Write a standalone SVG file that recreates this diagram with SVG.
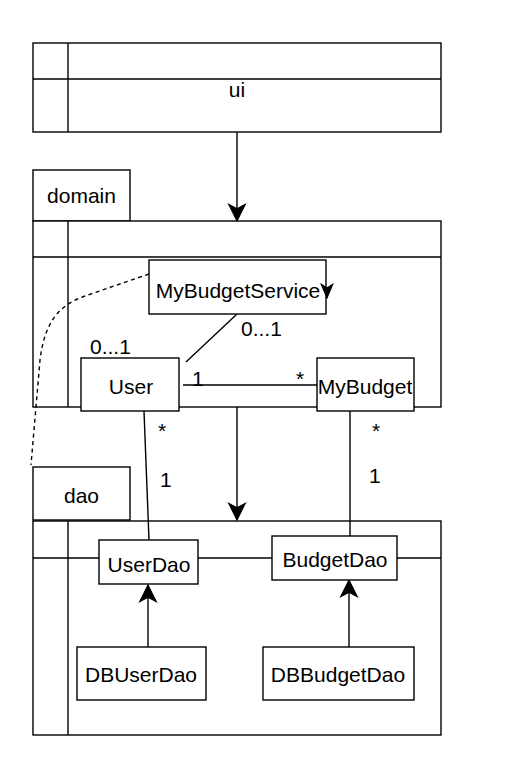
<svg xmlns="http://www.w3.org/2000/svg" width="508" height="768" viewBox="0 0 508 768">
<style>
.s{fill:#fff;stroke:#000;stroke-width:1.4}
.l{fill:none;stroke:#000;stroke-width:1.4}
.d{fill:none;stroke:#000;stroke-width:1.4;stroke-dasharray:4 3.5}
text{font-family:"Liberation Sans",Arial,Helvetica,sans-serif;font-size:21px;fill:#000}
.c{text-anchor:middle}
</style>
<defs>
<marker id="arr" markerUnits="userSpaceOnUse" markerWidth="20" markerHeight="20" viewBox="-17 -9 18 18" refX="0" refY="0" orient="auto">
<path d="M-15,-7.5 L0,0 L-15,7.5 L-11,0 Z" fill="#000" stroke="#000" stroke-width="1"/>
</marker>
<marker id="arrs" markerUnits="userSpaceOnUse" markerWidth="16" markerHeight="16" viewBox="-14 -7 15 14" refX="0" refY="0" orient="auto">
<path d="M-13,-5.5 L0,0 L-13,5.5 L-9.5,0 Z" fill="#000" stroke="#000" stroke-width="1"/>
</marker>
</defs>

<g id="pkg-ui">
<rect class="s" x="33" y="43" width="408" height="89"/>
<line class="l" x1="33" y1="79" x2="441" y2="79"/>
<line class="l" x1="68" y1="43" x2="68" y2="132"/>
<text class="c" x="237" y="97">ui</text>
</g>

<g id="pkg-domain">
<rect class="s" x="33" y="170" width="97" height="51"/>
<text class="c" x="81.5" y="203">domain</text>
<rect class="s" x="33" y="221" width="408" height="186"/>
<line class="l" x1="33" y1="257" x2="441" y2="257"/>
<line class="l" x1="68" y1="221" x2="68" y2="407"/>
</g>

<g id="pkg-dao">
<rect class="s" x="33" y="467" width="97" height="53"/>
<text class="c" x="81.5" y="503">dao</text>
<rect class="s" x="33" y="521" width="408" height="214"/>
<line class="l" x1="33" y1="558" x2="441" y2="558"/>
<line class="l" x1="68" y1="521" x2="68" y2="735"/>
</g>

<g id="connectors">
<line class="l" x1="237" y1="132" x2="237" y2="221" marker-end="url(#arr)"/>
<path class="d" d="M149,274 L85,296 C60,305 45,320 40,360 L31,465"/>
<line class="l" x1="237" y1="314" x2="186" y2="362"/>
<line class="l" x1="183" y1="385" x2="317" y2="385"/>
<line class="l" x1="237" y1="407" x2="237" y2="520" marker-end="url(#arr)"/>
<line class="l" x1="144" y1="411" x2="149" y2="540"/>
<line class="l" x1="350" y1="411" x2="350" y2="536"/>
<line class="l" x1="148" y1="647" x2="148" y2="585" marker-end="url(#arr)"/>
<line class="l" x1="349" y1="647" x2="349" y2="580" marker-end="url(#arr)"/>
<text x="241" y="336">0...1</text>
<text x="90" y="354">0...1</text>
<text x="192" y="386">1</text>
<text x="296" y="386">*</text>
<text x="158" y="438">*</text>
<text x="160" y="487">1</text>
<text x="372" y="438">*</text>
<text x="369" y="483">1</text>
</g>

<g id="MyBudgetService">
<rect class="s" x="149" y="260" width="177" height="54"/>
<text class="c" x="238" y="298">MyBudgetService</text>
<line class="l" x1="327" y1="287" x2="327" y2="298" marker-end="url(#arrs)"/>
</g>

<g id="User">
<rect class="s" x="81" y="358" width="98" height="53"/>
<text class="c" x="131" y="394">User</text>
</g>

<g id="MyBudget">
<rect class="s" x="317" y="358" width="97" height="53"/>
<text class="c" x="365" y="394">MyBudget</text>
</g>

<g id="UserDao">
<rect class="s" x="99" y="540" width="99" height="44"/>
<text class="c" x="149" y="572">UserDao</text>
</g>

<g id="BudgetDao">
<rect class="s" x="272" y="536" width="125" height="44"/>
<text class="c" x="335" y="567">BudgetDao</text>
</g>

<g id="DBUserDao">
<rect class="s" x="77" y="647" width="129" height="53"/>
<text class="c" x="141" y="682">DBUserDao</text>
</g>

<g id="DBBudgetDao">
<rect class="s" x="263" y="647" width="151" height="53"/>
<text class="c" x="338" y="682">DBBudgetDao</text>
</g>
</svg>
